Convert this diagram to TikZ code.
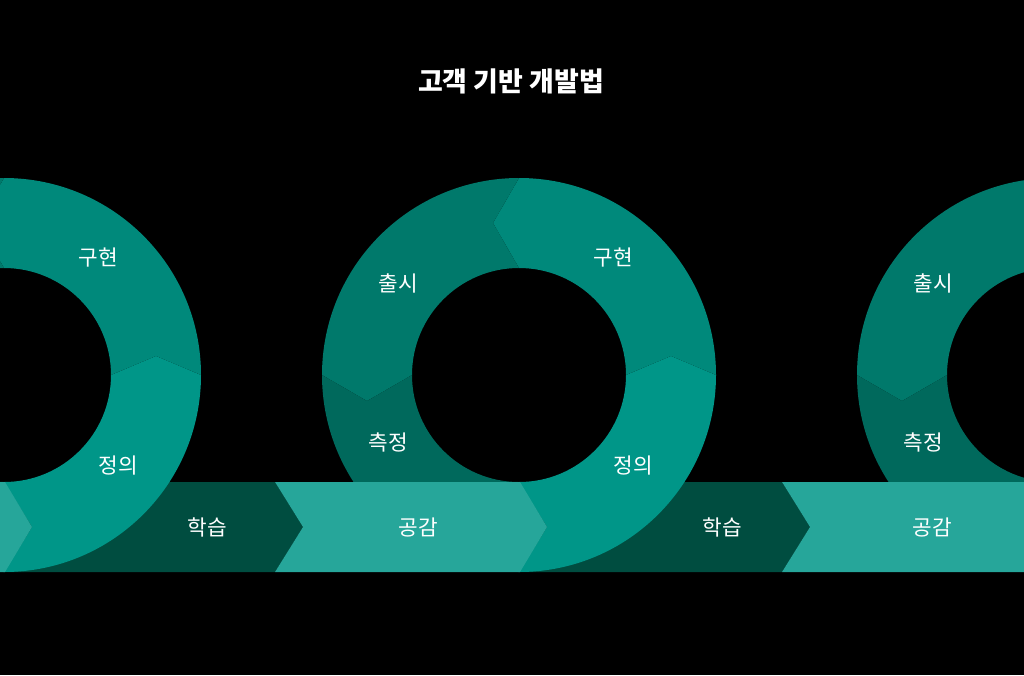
\documentclass[tikz,border=0pt]{standalone}
\usepackage{fontspec}
\setmainfont{Noto Sans CJK KR}

\definecolor{defcol}{RGB}{0,150,136}
\definecolor{implcol}{RGB}{0,137,123}
\definecolor{launchcol}{RGB}{0,121,107}
\definecolor{measurecol}{RGB}{0,105,92}
\definecolor{empathycol}{RGB}{38,166,154}
\definecolor{learncol}{RGB}{0,77,64}

\begin{document}
\begin{tikzpicture}[x=0.75pt,y=0.75pt,yscale=-1,xscale=1,
  lbl/.style={inner sep=0.75pt,text=white,font=\fontsize{16}{19}\selectfont},
  ttl/.style={inner sep=0.75pt,text=white,font=\bfseries\fontsize{20.2}{24}\selectfont}]
\path[use as bounding box] (0,0) rectangle (1024,675);
\clip (0,0) rectangle (1024,675);
\fill[black] (0,0) rectangle (1024,675);

%Shape: Learn Band (left)
\fill[learncol] (5,482) -- (275,482) -- (303,527) -- (275,572) -- (5,572) -- (32,527) -- cycle;
%Shape: Learn Band (middle)
\fill[learncol] (520,482) -- (782,482) -- (810,527) -- (782,572) -- (520,572) -- (547,527) -- cycle;

%Shape: Ring Segment, left ring
\fill[defcol] (4,482) -- (32,527) -- (4,572) arc[start angle=90,end angle=0,radius=197] -- (156,356) -- (111,375) arc[start angle=0,end angle=90,radius=107] -- cycle;
\fill[implcol] (111,375) -- (156,356) -- (201,375) arc[start angle=0,end angle=-90,radius=197] -- (-22,223) -- (4,268) arc[start angle=-90,end angle=0,radius=107] -- cycle;
\fill[launchcol] (4,268) -- (-22,223) -- (4,178) arc[start angle=-90,end angle=-180,radius=197] -- (-148,401) -- (-103,375) arc[start angle=180,end angle=270,radius=107] -- cycle;
\fill[measurecol] (-103,375) -- (-148,401) -- (-193,375) arc[start angle=180,end angle=90,radius=197] -- (32,527) -- (4,482) arc[start angle=90,end angle=180,radius=107] -- cycle;

%Shape: Ring Segment, middle ring
\fill[defcol] (519,482) -- (547,527) -- (519,572) arc[start angle=90,end angle=0,radius=197] -- (671,356) -- (626,375) arc[start angle=0,end angle=90,radius=107] -- cycle;
\fill[implcol] (626,375) -- (671,356) -- (716,375) arc[start angle=0,end angle=-90,radius=197] -- (493,223) -- (519,268) arc[start angle=-90,end angle=0,radius=107] -- cycle;
\fill[launchcol] (519,268) -- (493,223) -- (519,178) arc[start angle=-90,end angle=-180,radius=197] -- (367,401) -- (412,375) arc[start angle=180,end angle=270,radius=107] -- cycle;
\fill[measurecol] (412,375) -- (367,401) -- (322,375) arc[start angle=180,end angle=90,radius=197] -- (547,527) -- (519,482) arc[start angle=90,end angle=180,radius=107] -- cycle;

%Shape: Ring Segment, right ring
\fill[launchcol] (1054,268) -- (1028,223) -- (1054,178) arc[start angle=-90,end angle=-180,radius=197] -- (902,401) -- (947,375) arc[start angle=180,end angle=270,radius=107] -- cycle;
\fill[measurecol] (947,375) -- (902,401) -- (857,375) arc[start angle=180,end angle=90,radius=197] -- (1082,527) -- (1054,482) arc[start angle=90,end angle=180,radius=107] -- cycle;

%Shape: Empathy Band (left)
\fill[empathycol] (-60,482) -- (5,482) -- (32,527) -- (5,572) -- (-60,572) -- cycle;
%Shape: Empathy Band (middle)
\fill[empathycol] (275,482) -- (520,482) -- (547,527) -- (520,572) -- (275,572) -- (303,527) -- cycle;
%Shape: Empathy Band (right)
\fill[empathycol] (782,482) -- (1090,482) -- (1090,572) -- (782,572) -- (810,527) -- cycle;

% Text Node
\draw (511,81) node [ttl] (title) {고객 기반 개발법};
% Text Node
\draw (98,258) node [lbl] (implL) {구현};
% Text Node
\draw (118,466) node [lbl] (defL) {정의};
% Text Node
\draw (207,527) node [lbl] (learnL) {학습};
% Text Node
\draw (613,258) node [lbl] (implM) {구현};
% Text Node
\draw (398,283) node [lbl] (launchM) {출시};
% Text Node
\draw (388,442) node [lbl] (measureM) {측정};
% Text Node
\draw (633,466) node [lbl] (defM) {정의};
% Text Node
\draw (418,527) node [lbl] (empathyM) {공감};
% Text Node
\draw (722,527) node [lbl] (learnM) {학습};
% Text Node
\draw (933,283) node [lbl] (launchR) {출시};
% Text Node
\draw (923,442) node [lbl] (measureR) {측정};
% Text Node
\draw (932,527) node [lbl] (empathyR) {공감};

\end{tikzpicture}
\end{document}
